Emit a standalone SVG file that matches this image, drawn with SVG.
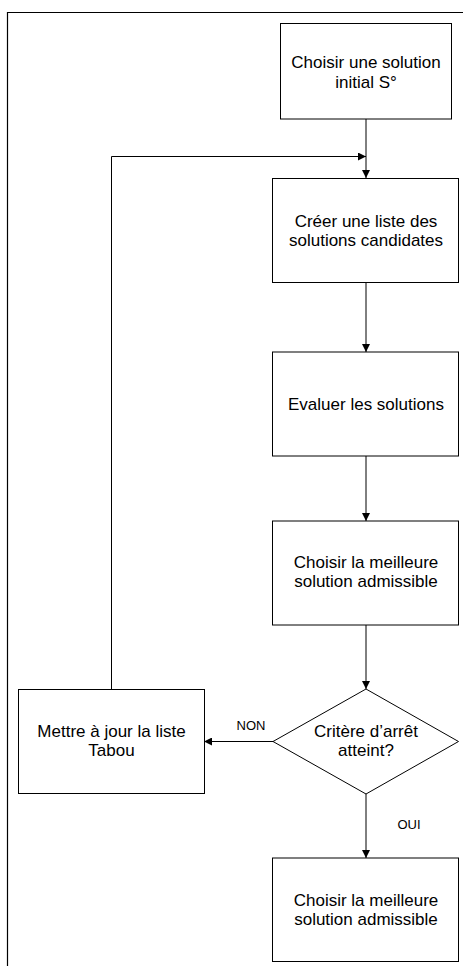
<svg xmlns="http://www.w3.org/2000/svg" width="463" height="966" viewBox="0 0 463 966">
<style>
.box{fill:#fff;stroke:#000;stroke-width:1}
.t{font-family:"Liberation Sans",Arial,sans-serif;font-size:17px;fill:#000;text-anchor:middle}
.lbl{font-family:"Liberation Sans",Arial,sans-serif;font-size:13px;fill:#000;text-anchor:middle}
.c{fill:none;stroke:#000;stroke-width:1}
</style>
<defs>
<marker id="ah" markerWidth="8" markerHeight="8" refX="8" refY="4" orient="auto" markerUnits="userSpaceOnUse">
<path d="M0,0 L8,4 L0,8 z" fill="#000"/>
</marker>
</defs>
<rect width="463" height="966" fill="#fff"/>
<path d="M463,12.5 H7.5 V966" fill="none" stroke="#000" stroke-width="1.2"/>
<g id="connectors">
<path class="c" d="M366,119 V178" marker-end="url(#ah)"/>
<path class="c" d="M111.5,689 V156.5 H366" marker-end="url(#ah)"/>
<path class="c" d="M366,283 V352" marker-end="url(#ah)"/>
<path class="c" d="M366,456 V521" marker-end="url(#ah)"/>
<path class="c" d="M366,625 V689" marker-end="url(#ah)"/>
<path class="c" d="M273,741.5 H204" marker-end="url(#ah)"/>
<path class="c" d="M366,794 V858" marker-end="url(#ah)"/>
<text class="lbl" x="251" y="730">NON</text>
<text class="lbl" x="409" y="829">OUI</text>
</g>
<g id="n1">
<rect class="box" x="280.5" y="23.5" width="171" height="95.5"/>
<text class="t" x="366" y="68">Choisir une solution</text>
<text class="t" x="366" y="88">initial S°</text>
</g>
<g id="n2">
<rect class="box" x="272.5" y="178.5" width="186" height="104"/>
<text class="t" x="366" y="227">Créer une liste des</text>
<text class="t" x="366" y="246">solutions candidates</text>
</g>
<g id="n3">
<rect class="box" x="272.5" y="352" width="186" height="104"/>
<text class="t" x="366" y="410">Evaluer les solutions</text>
</g>
<g id="n4">
<rect class="box" x="272.5" y="521" width="186" height="104"/>
<text class="t" x="366" y="568">Choisir la meilleure</text>
<text class="t" x="366" y="587">solution admissible</text>
</g>
<g id="n5">
<polygon class="box" points="366,689 458.5,741.5 366,794 273,741.5"/>
<text class="t" x="366" y="737">Critère d’arrêt</text>
<text class="t" x="366" y="756">atteint?</text>
</g>
<g id="n6">
<rect class="box" x="18.5" y="689.5" width="186" height="104"/>
<text class="t" x="111.5" y="737">Mettre à jour la liste</text>
<text class="t" x="111.5" y="756">Tabou</text>
</g>
<g id="n7">
<rect class="box" x="272.5" y="858" width="186" height="103.5"/>
<text class="t" x="366" y="906">Choisir la meilleure</text>
<text class="t" x="366" y="925">solution admissible</text>
</g>
</svg>
